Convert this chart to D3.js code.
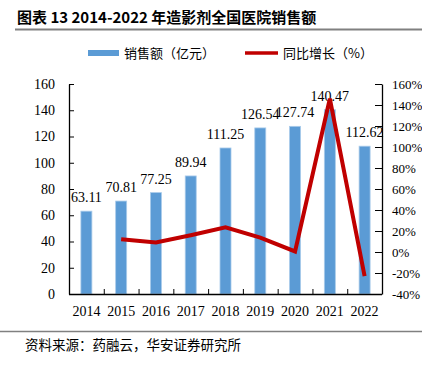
<!DOCTYPE html>
<html><head><meta charset="utf-8">
<script src="https://cdn.jsdelivr.net/npm/d3@7"></script>
<style>body{margin:0;background:#fff}svg{display:block}</style>
</head><body><svg id="c" width="422" height="367"></svg>
<script>
const years = ["2014","2015","2016","2017","2018","2019","2020","2021","2022"];
const sales = [63.11,70.81,77.25,89.94,111.25,126.54,127.74,140.47,112.62];
const salesLabels = ["63.11","70.81","77.25","89.94","111.25","126.54","127.74","140.47","112.62"];
const growthYears = ["2015","2016","2017","2018","2019","2020","2021","2022"];
const growth = [12.2,9.0,16.0,23.5,13.7,0.5,146,-23];
const leftTicks = [0,20,40,60,80,100,120,140,160];
const rightTicks = [-40,-20,0,20,40,60,80,100,120,140,160];

const svg = d3.select("#c");
const L=69, R=382, T=84, B=294;
const serif = "'Liberation Serif','Times New Roman',serif";
const cjk = "'Noto Sans CJK SC',sans-serif";

// title
svg.append("text").attr("x",17).attr("y",22.5).attr("font-family",cjk).attr("font-weight","bold")
  .attr("font-size",15).attr("fill","#000").text("图表 13 2014-2022 年造影剂全国医院销售额");
svg.append("line").attr("x1",15).attr("x2",422).attr("y1",29.5).attr("y2",29.5).attr("stroke","#808080").attr("stroke-width",2);

const x = d3.scaleBand().domain(years).range([L,R]).padding(0);
const y = d3.scaleLinear().domain([0,160]).range([B,T]);
const y2 = d3.scaleLinear().domain([-40,160]).range([B,T]);
const bw = 11;

// bars
svg.append("g").selectAll("rect").data(years).join("rect")
  .attr("x",d=>x(d)+x.bandwidth()/2-bw/2).attr("width",bw)
  .attr("y",(d,i)=>y(sales[i])).attr("height",(d,i)=>B-y(sales[i]))
  .attr("fill","#5B9BD5").attr("stroke","#A9CBEA").attr("stroke-width",0.8);

// bar labels
svg.append("g").selectAll("text").data(years).join("text")
  .attr("x",d=>x(d)+x.bandwidth()/2).attr("y",(d,i)=>y(sales[i])-9)
  .attr("text-anchor","middle").attr("font-family",serif).attr("font-size",14).attr("fill","#000")
  .text((d,i)=>salesLabels[i]);

// line
const line = d3.line().x(d=>x(d[0])+x.bandwidth()/2).y(d=>y2(d[1]));
svg.append("path").datum(growthYears.map((d,i)=>[d,growth[i]]))
  .attr("d",line).attr("fill","none").attr("stroke","#C00000").attr("stroke-width",4)
  .attr("stroke-linejoin","miter");

// left axis
const gl = svg.append("g").attr("transform",`translate(${L},0)`)
  .call(d3.axisLeft(y).tickValues(leftTicks).tickSizeInner(-5).tickSizeOuter(0).tickPadding(14));
// right axis
const gr = svg.append("g").attr("transform",`translate(${R},0)`)
  .call(d3.axisRight(y2).tickValues(rightTicks).tickSizeInner(-7).tickSizeOuter(0).tickPadding(18).tickFormat(d=>d+"%"));
// bottom axis
const gb = svg.append("g").attr("transform",`translate(0,${B})`)
  .call(d3.axisBottom(x).tickSize(0).tickPadding(12));
gb.append("g").selectAll("line").data(years.slice(1)).join("line")
  .attr("x1",d=>x(d)+0.5).attr("x2",d=>x(d)+0.5).attr("y1",0).attr("y2",-5).attr("stroke","#000");

[gl,gr,gb].forEach(g=>{
  g.selectAll("path.domain").attr("stroke","#000").attr("stroke-width",1.3);
  g.selectAll(".tick line").attr("stroke","#000");
  g.selectAll("text").attr("font-family",serif).attr("font-size",14).attr("fill","#000");
});
gr.selectAll("text").attr("x",10).attr("font-size",13);
gb.select("path.domain").attr("d",`M${L},0.5H${R}`);

// legend
svg.append("rect").attr("x",88).attr("y",50).attr("width",31).attr("height",6).attr("fill","#5B9BD5");
svg.append("text").attr("x",124).attr("y",58).attr("font-family",cjk).attr("font-size",13).attr("fill","#000")
  .text("销售额（亿元）");
svg.append("line").attr("x1",245).attr("x2",278).attr("y1",53).attr("y2",53).attr("stroke","#C00000").attr("stroke-width",3.5);
svg.append("text").attr("x",283).attr("y",58).attr("font-family",cjk).attr("font-size",13).attr("fill","#000")
  .text("同比增长（%）");

// footer
svg.append("line").attr("x1",0).attr("x2",422).attr("y1",331.5).attr("y2",331.5).attr("stroke","#808080").attr("stroke-width",1.5);
svg.append("text").attr("x",25).attr("y",350).attr("font-family",cjk).attr("font-size",13.5).attr("fill","#000")
  .text("资料来源：药融云，华安证券研究所");
</script></body></html>
